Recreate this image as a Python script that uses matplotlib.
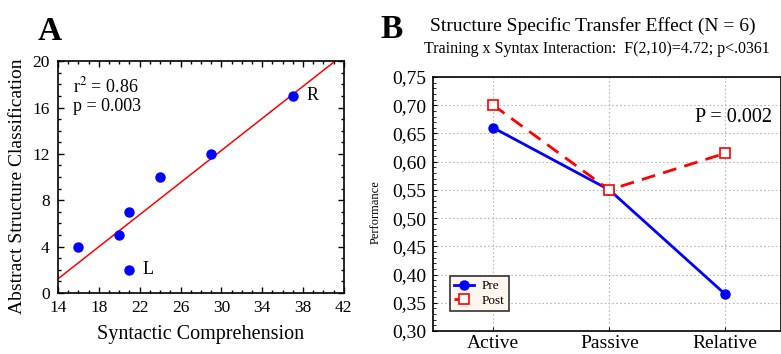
import matplotlib
matplotlib.use("Agg")
import matplotlib.pyplot as plt
import numpy as np
from matplotlib.ticker import MultipleLocator, FuncFormatter

plt.rcParams["font.family"] = ["Liberation Serif", "DejaVu Serif"]
plt.rcParams["mathtext.fontset"] = "stix"

# ---------------------------------------------------------------------------
# Panel A data: syntactic comprehension vs abstract structure classification
# ---------------------------------------------------------------------------
syntactic = [16, 20, 21, 21, 24, 29, 37]
abstract = [4, 5, 7, 2, 10, 12, 17]
point_labels = {3: "L", 6: "R"}   # index -> label
x_ticks = [14, 18, 22, 26, 30, 34, 38, 42]
y_ticks = [0, 4, 8, 12, 16, 20]

# ---------------------------------------------------------------------------
# Panel B data: pre / post performance by structure
# ---------------------------------------------------------------------------
structures = ["Active", "Passive", "Relative"]
pre_perf = [0.66, 0.55, 0.365]
post_perf = [0.70, 0.55, 0.615]

BLUE = "#0000ff"
RED = "#ff0000"

fig = plt.figure(figsize=(7.81, 3.54), dpi=100)

# ---- Panel A -------------------------------------------------------------
axA = fig.add_axes([0.0743, 0.1723, 0.366, 0.655])
x = np.array(syntactic, dtype=float)
y = np.array(abstract, dtype=float)
slope, intercept = np.polyfit(x, y, 1)
xs = np.array([14, 42])
axA.plot(xs, slope * xs + intercept, color=RED, lw=1.1, zorder=2)
axA.plot(x, y, "o", color=BLUE, ms=6.5, zorder=3)
for i, lab in point_labels.items():
    axA.text(x[i] + 1.3, y[i], lab, fontsize=13, va="center", ha="left")

axA.set_xlim(14, 42)
axA.set_ylim(0, 20)
axA.set_xticks(x_ticks)
axA.set_yticks(y_ticks)
axA.xaxis.set_minor_locator(MultipleLocator(1))
axA.yaxis.set_minor_locator(MultipleLocator(1))
axA.tick_params(which="both", direction="in", top=True, right=True,
                labelsize=12.5, width=1)
axA.tick_params(which="major", length=4)
axA.tick_params(which="minor", length=2)
axA.tick_params(axis="x", pad=5)
axA.tick_params(axis="y", pad=6)
for s in axA.spines.values():
    s.set_linewidth(1.2)
axA.text(0.052, 0.935, "r$^2$ = 0.86\np = 0.003", transform=axA.transAxes,
         fontsize=13, va="top", ha="left", linespacing=1.15)

fig.text(201 / 781, 1 - 335 / 354, "Syntactic Comprehension", fontsize=14.5,
         ha="center", va="center")
fig.text(18 / 781, 1 - 186 / 354, "Abstract Structure Classification",
         fontsize=14, ha="center", va="center", rotation=90)
fig.text(50 / 781, 1 - 31 / 354, "A", fontsize=24, fontweight="bold",
         ha="center", va="center")

# ---- Panel B -------------------------------------------------------------
axB = fig.add_axes([0.5544, 0.065, 0.4456, 0.7175])
pos = np.arange(len(structures))
axB.plot(pos, pre_perf, "-o", color=BLUE, lw=2, ms=6.5, label="Pre", zorder=3)
axB.plot(pos, post_perf, "--s", color=RED, lw=2, ms=7, mfc="white",
         mec=RED, mew=1.2, dashes=(5, 3), label="Post", zorder=3)

axB.set_xlim(-0.52, 2.48)
axB.set_ylim(0.30, 0.75)
axB.set_xticks(pos)
axB.set_xticklabels(structures)
axB.yaxis.set_major_locator(MultipleLocator(0.05))
axB.yaxis.set_minor_locator(MultipleLocator(0.01))
axB.yaxis.set_major_formatter(FuncFormatter(lambda v, _: f"{v:.2f}".replace(".", ",")))
axB.tick_params(axis="y", which="both", direction="in", labelsize=14, pad=5)
axB.tick_params(axis="y", which="major", length=3)
axB.tick_params(axis="y", which="minor", length=2)
axB.tick_params(axis="x", direction="in", length=3, labelsize=14, pad=3)
axB.grid(True, which="major", ls=(0, (1.5, 2)), color="#b8b8b8", lw=0.8)
for s in axB.spines.values():
    s.set_linewidth(1.2)

axB.text(0.975, 0.678, "P = 0.002", transform=axB.get_yaxis_transform(),
         fontsize=14.5, ha="right", va="center")
leg = axB.legend(loc="lower left", bbox_to_anchor=(0.05, 0.08), fontsize=9.5,
                 frameon=True, fancybox=False, handlelength=1.5,
                 borderpad=0.3, labelspacing=0.15, handletextpad=0.6,
                 borderaxespad=0)
leg.get_frame().set_facecolor("#fdf6ee")
leg.get_frame().set_edgecolor("#333333")
leg.get_frame().set_linewidth(1.2)
leg.get_frame().set_alpha(1)

fig.text(376 / 781, 1 - 212 / 354, "Performance", fontsize=9,
         ha="center", va="center", rotation=90)
fig.text(392 / 781, 1 - 29 / 354, "B", fontsize=24, fontweight="bold",
         ha="center", va="center")
fig.text(593 / 781, 1 - 26 / 354, "Structure Specific Transfer Effect (N = 6)",
         fontsize=14, ha="center", va="center")
fig.text(597 / 781, 1 - 49 / 354,
         "Training x Syntax Interaction:  F(2,10)=4.72; p<.0361",
         fontsize=11.5, ha="center", va="center")

fig.savefig("out.png", dpi=100)
